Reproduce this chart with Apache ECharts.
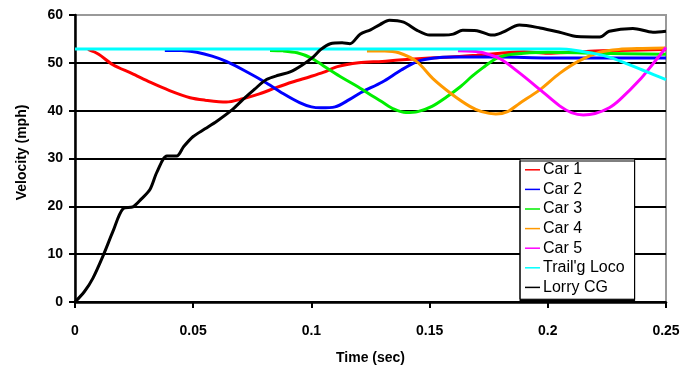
<!DOCTYPE html>
<html>
<head>
<meta charset="utf-8">
<script src="https://cdn.jsdelivr.net/npm/echarts@6/dist/echarts.min.js"></script>
<style>html,body{margin:0;padding:0;background:#fff}#c{width:699px;height:370px}</style>
</head>
<body>
<div id="c"></div>
<script>
var seriesNames = ["Car 1", "Car 2", "Car 3", "Car 4", "Car 5", "Trail'g Loco", "Lorry CG"];
var seriesColors = ["#ff0000", "#0000ff", "#00ee00", "#ff9900", "#ff00ff", "#00ffff", "#000000"];
var xTicks = [0, 0.05, 0.1, 0.15, 0.2, 0.25];
var yTicks = [0, 10, 20, 30, 40, 50, 60];

var car1 = [[0.0055,52.8],[0.01,51.8],[0.016,49.6],[0.024,47.8],[0.032,45.9],[0.04,44.2],[0.0487,42.7],[0.055,42.2],[0.064,41.8],[0.071,42.5],[0.078,43.5],[0.085,44.8],[0.092,46.0],[0.0994,47.1],[0.105,48.0],[0.111,49.2],[0.12,50.0],[0.13,50.3],[0.137,50.6],[0.15,51.0],[0.159,51.2],[0.17,51.6],[0.18,52.0],[0.19,52.3],[0.2,52.0],[0.21,52.2],[0.22,52.5],[0.23,52.6],[0.24,52.7],[0.25,52.8]];
var car2 = [[0.038,52.6],[0.045,52.6],[0.0515,52.2],[0.058,51.4],[0.064,50.3],[0.072,48.3],[0.081,45.8],[0.088,43.6],[0.095,41.7],[0.1,40.8],[0.104,40.6],[0.11,40.8],[0.116,42.3],[0.121,43.8],[0.13,46.0],[0.138,48.5],[0.145,50.3],[0.152,51.0],[0.16,51.2],[0.18,51.2],[0.2,51.0],[0.22,51.0],[0.25,51.0]];
var car3 = [[0.0825,52.6],[0.088,52.5],[0.094,52.1],[0.1,51.0],[0.105,49.4],[0.112,47.2],[0.12,44.9],[0.126,43.0],[0.13,41.8],[0.135,40.3],[0.14,39.6],[0.145,39.8],[0.151,40.9],[0.157,42.8],[0.163,45.0],[0.168,47.2],[0.1726,49.0],[0.1785,51.0],[0.185,51.8],[0.2,52.2],[0.22,52.0],[0.25,51.8]];
var car4 = [[0.1235,52.5],[0.131,52.5],[0.137,52.1],[0.1447,50.2],[0.1514,46.7],[0.159,43.6],[0.167,40.9],[0.172,39.8],[0.178,39.3],[0.183,39.8],[0.188,41.5],[0.1967,44.4],[0.205,47.8],[0.2136,50.5],[0.222,52.2],[0.23,52.8],[0.24,53.0],[0.25,53.1]];
var car5 = [[0.162,52.5],[0.168,52.4],[0.1726,52.1],[0.18,50.8],[0.188,47.9],[0.1967,44.4],[0.205,41.0],[0.21,39.6],[0.215,39.1],[0.22,39.4],[0.226,40.6],[0.2305,42.3],[0.239,46.5],[0.2445,49.8],[0.25,53.2]];
var trailLoco = [[0,52.9],[0.1,52.9],[0.205,52.9],[0.212,52.6],[0.219,52.0],[0.226,51.2],[0.233,49.9],[0.24,48.5],[0.245,47.5],[0.25,46.5]];
var lorryCG = [[0,0],[0.004,2.2],[0.0076,5.0],[0.012,9.8],[0.016,14.7],[0.0203,19.5],[0.0245,19.9],[0.028,21.5],[0.0317,23.5],[0.0347,27.2],[0.0389,30.5],[0.043,30.5],[0.046,32.5],[0.05,34.6],[0.055,36.2],[0.06,37.8],[0.066,40.0],[0.071,42.3],[0.076,44.5],[0.081,46.5],[0.086,47.4],[0.091,48.1],[0.096,49.5],[0.1007,51.2],[0.104,52.8],[0.108,54.0],[0.113,54.2],[0.1163,54.0],[0.1206,56.0],[0.125,56.9],[0.129,58.0],[0.133,58.9],[0.139,58.5],[0.1447,56.8],[0.15,55.8],[0.156,55.8],[0.16,56.0],[0.164,56.8],[0.17,56.7],[0.175,55.9],[0.177,55.8],[0.181,56.4],[0.188,57.9],[0.1967,57.3],[0.205,56.4],[0.2123,55.5],[0.222,55.4],[0.226,56.6],[0.236,57.2],[0.2445,56.4],[0.25,56.6]];

var seriesData = [car1, car2, car3, car4, car5, trailLoco, lorryCG];

var chart = echarts.init(document.getElementById('c'), null, {renderer: 'canvas'});
var font = "'Liberation Sans', Arial, sans-serif";

var option = {
  animation: false,
  backgroundColor: '#fff',
  grid: {left: 75, right: 33, top: 15, bottom: 66, show: true, borderColor: '#999', borderWidth: 2, backgroundColor: '#fff'},
  legend: {
    orient: 'vertical', left: 520, top: 159,
    data: seriesNames,
    icon: 'rect', itemWidth: 15, itemHeight: 1.5, itemGap: 0,
    padding: [1, 10, 2, 5],
    backgroundColor: '#fff', borderColor: '#000', borderWidth: 1,
    shadowColor: '#000', shadowOffsetY: 2, shadowOffsetX: 0, shadowBlur: 0,
    textStyle: {fontFamily: font, fontSize: 16, color: '#000', lineHeight: 19.6, padding: [0, 0, 0, -2]}
  },
  xAxis: {
    type: 'value', min: xTicks[0], max: xTicks[xTicks.length - 1], interval: 0.05,
    name: 'Time (sec)', nameLocation: 'middle', nameGap: 49,
    nameTextStyle: {fontFamily: font, fontSize: 14, fontWeight: 'bold', color: '#000'},
    axisLine: {show: true, onZero: false, lineStyle: {color: '#000', width: 2.5}},
    axisTick: {show: true, length: 6, lineStyle: {color: '#000', width: 2}},
    axisLabel: {margin: 22, fontFamily: font, fontSize: 14, fontWeight: 'bold', color: '#000',
      formatter: function (v) { return String(parseFloat(v.toFixed(2))); }},
    splitLine: {show: false}
  },
  yAxis: {
    type: 'value', min: yTicks[0], max: yTicks[yTicks.length - 1], interval: 10,
    name: 'Velocity (mph)', nameLocation: 'middle', nameGap: 46, nameRotate: 90,
    nameTextStyle: {fontFamily: font, fontSize: 14, fontWeight: 'bold', color: '#000', padding: [0, 0, 0, 12]},
    axisLine: {show: true, onZero: false, lineStyle: {color: '#000', width: 2.5}},
    axisTick: {show: true, length: 6, lineStyle: {color: '#000', width: 2}},
    axisLabel: {margin: 12, fontFamily: font, fontSize: 14, fontWeight: 'bold', color: '#000'},
    splitLine: {show: true, showMaxLine: false, lineStyle: {color: '#000', width: 2}}
  },
  series: seriesNames.map(function (n, i) {
    return {
      name: n, type: 'line', data: seriesData[i], showSymbol: false, symbol: 'none',
      smooth: 0.3,
      lineStyle: {color: seriesColors[i], width: 3},
      itemStyle: {color: seriesColors[i]},
      z: 2 + i
    };
  })
};
chart.setOption(option);
</script>
</body>
</html>
